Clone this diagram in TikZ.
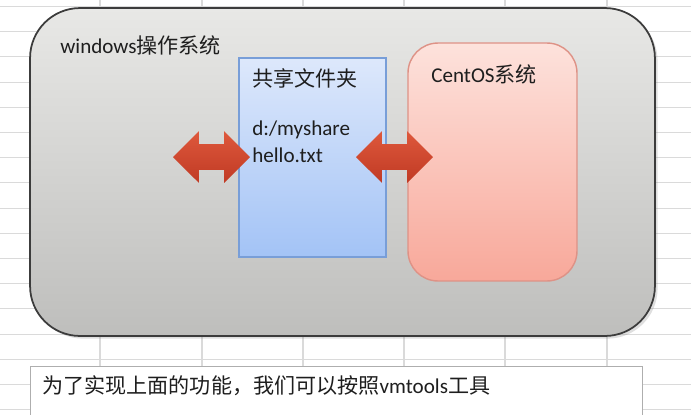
\documentclass[tikz,border=0pt]{standalone}
\usepackage{fontspec}
\setmainfont{Carlito}
\newfontfamily\cjk{Noto Sans CJK SC}
\definecolor{gridgray}{RGB}{218,218,218}
\definecolor{winedge}{RGB}{60,60,60}
\definecolor{wintop}{RGB}{232,232,230}
\definecolor{winbot}{RGB}{190,190,188}
\definecolor{shareedge}{RGB}{120,158,216}
\definecolor{sharetop}{RGB}{221,232,251}
\definecolor{sharebot}{RGB}{163,195,246}
\definecolor{centedge}{RGB}{222,146,134}
\definecolor{centtop}{RGB}{253,226,220}
\definecolor{centbot}{RGB}{248,168,154}
\definecolor{arrtop}{RGB}{222,88,60}
\definecolor{arrbot}{RGB}{192,58,36}
\definecolor{txtgray}{RGB}{30,30,30}
\usetikzlibrary{positioning,shapes.arrows,shadows}

\tikzset{
  lbl/.style={font=\fontsize{12}{14}\selectfont, text=txtgray, anchor=west, inner sep=0pt},
  xfer/.style={double arrow, double arrow head extend=0.26cm, double arrow tip angle=90,
    minimum height=1.54cm, minimum width=1.02cm, inner xsep=0pt, inner ysep=0.25cm,
    top color=arrtop, bottom color=arrbot, draw=none}
}

\begin{document}
\begin{tikzpicture}[x=0.02cm,y=-0.02cm]
  \clip (0,0) rectangle (691,414);
  \fill[white] (0,0) rectangle (691,414);

  % spreadsheet grid
  \foreach \gx in {100,202,303,404,505,607}
    \draw[gridgray, line width=0.6pt] (\gx,0) -- (\gx,414);
  \foreach \gy in {0,...,16}
    \draw[gridgray, line width=0.6pt] (0,6.5+25.2*\gy) -- (691,6.5+25.2*\gy);

  % windows host
  \node[draw=winedge, line width=1pt, top color=wintop, bottom color=winbot, rounded corners=1cm,
    minimum width=12.5cm, minimum height=6.56cm,
    drop shadow={opacity=0.25, shadow xshift=1.5pt, shadow yshift=-1.5pt}] (win) at (342.5,172) {};
  \node[lbl] (winlbl) at (60,45) {windows{\cjk 操作系统}};

  % shared folder
  \node[draw=shareedge, line width=0.8pt, top color=sharetop, bottom color=sharebot,
    minimum width=2.94cm, minimum height=3.98cm] (share) at (312.5,157.5) {};
  \node[lbl] (sharelbl) at (252,78) {\cjk 共享文件夹};
  \node[lbl] (path) at (252,130) {d:/myshare};
  \node[lbl] (file) at (252,155) {hello.txt};

  % CentOS guest
  \node[draw=centedge, line width=0.8pt, top color=centtop, bottom color=centbot, rounded corners=0.6cm,
    minimum width=3.38cm, minimum height=4.76cm] (cent) at (492.5,162) {};
  \node[lbl] (centlbl) at (431,74) {CentOS{\cjk 系统}};

  % arrows
  \node[xfer] (a1) at (211.5,157) {};
  \node[xfer] (a2) at (394.5,157) {};

  % note
  \node[draw=gridgray!80!black, line width=0.6pt, fill=white, minimum width=12.24cm, minimum height=1.2cm,
    anchor=north west, inner sep=0pt] (note) at (30,366) {};
  \node[lbl] (notelbl) at (42,386) {\cjk 为了实现上面的功能，我们可以按照{\rmfamily vmtools}工具};
\end{tikzpicture}
\end{document}
